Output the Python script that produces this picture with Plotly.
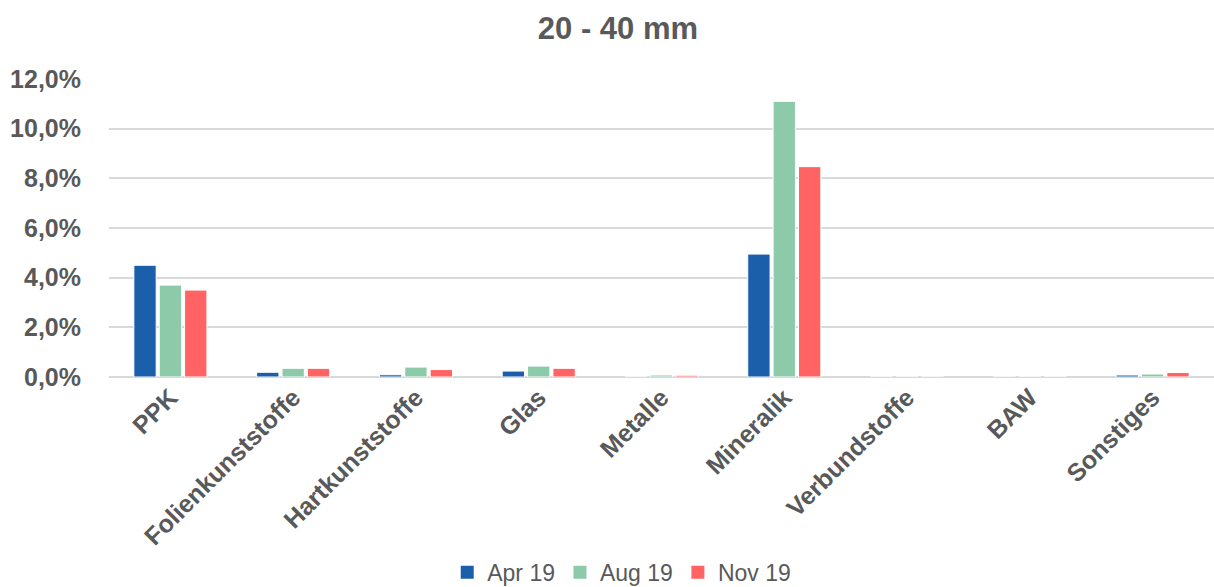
import plotly.graph_objects as go

categories = ["PPK", "Folienkunststoffe", "Hartkunststoffe", "Glas", "Metalle",
              "Mineralik", "Verbundstoffe", "BAW", "Sonstiges"]
series_names = ["Apr 19", "Aug 19", "Nov 19"]
apr_19 = [4.5, 0.19, 0.09, 0.24, 0.0, 4.95, 0.0, 0.0, 0.08]
aug_19 = [3.7, 0.35, 0.40, 0.44, 0.08, 11.1, 0.0, 0.0, 0.12]
nov_19 = [3.5, 0.35, 0.30, 0.35, 0.07, 8.47, 0.0, 0.0, 0.18]
colors = ["#1B5FAB", "#8DCAA9", "#FF6363"]

font_family = "Liberation Sans, Arial, sans-serif"
text_color = "#595959"

fig = go.Figure()
for name, vals, col in zip(series_names, [apr_19, aug_19, nov_19], colors):
    fig.add_trace(go.Bar(
        x=categories, y=vals, name=name, showlegend=False,
        marker=dict(color=col, line=dict(color="white", width=1)),
    ))
    # small square legend keys
    fig.add_trace(go.Scatter(
        x=[None], y=[None], mode="markers", name=name,
        marker=dict(symbol="square", size=13, color=col),
    ))

fig.update_layout(
    width=1214, height=587,
    margin=dict(l=109, r=0, t=79, b=210, autoexpand=False),
    paper_bgcolor="white", plot_bgcolor="white",
    separators=",.",
    barmode="group", bargap=0.38, bargroupgap=0.12,
    title=dict(text="<b>20 - 40 mm</b>", x=0.509, xanchor="center",
               y=0.952, yanchor="middle",
               font=dict(family=font_family, size=31, color=text_color)),
    font=dict(family=font_family, color=text_color),
    legend=dict(orientation="h", x=0.464, xanchor="center",
                y=-0.655, yanchor="middle",
                font=dict(size=23, color=text_color), itemwidth=30,
                traceorder="normal"),
    xaxis=dict(tickangle=-45, showgrid=False, showline=False, ticks="",
               automargin=False,
               tickfont=dict(size=25, family=font_family, color=text_color),
               tickprefix="<b>", ticksuffix="</b>"),
    yaxis=dict(range=[0, 12], dtick=2, tickformat=".1f", ticksuffix="%",
               showgrid=True, gridcolor="#D9D9D9", gridwidth=2,
               zeroline=True, zerolinecolor="#D9D9D9", zerolinewidth=2,
               showline=False, ticks="", ticklen=0, ticklabelstandoff=27,
               automargin=False,
               tickfont=dict(size=25, family=font_family, color=text_color),
               tickprefix="<b>"),
)

fig.write_html("out.html")
